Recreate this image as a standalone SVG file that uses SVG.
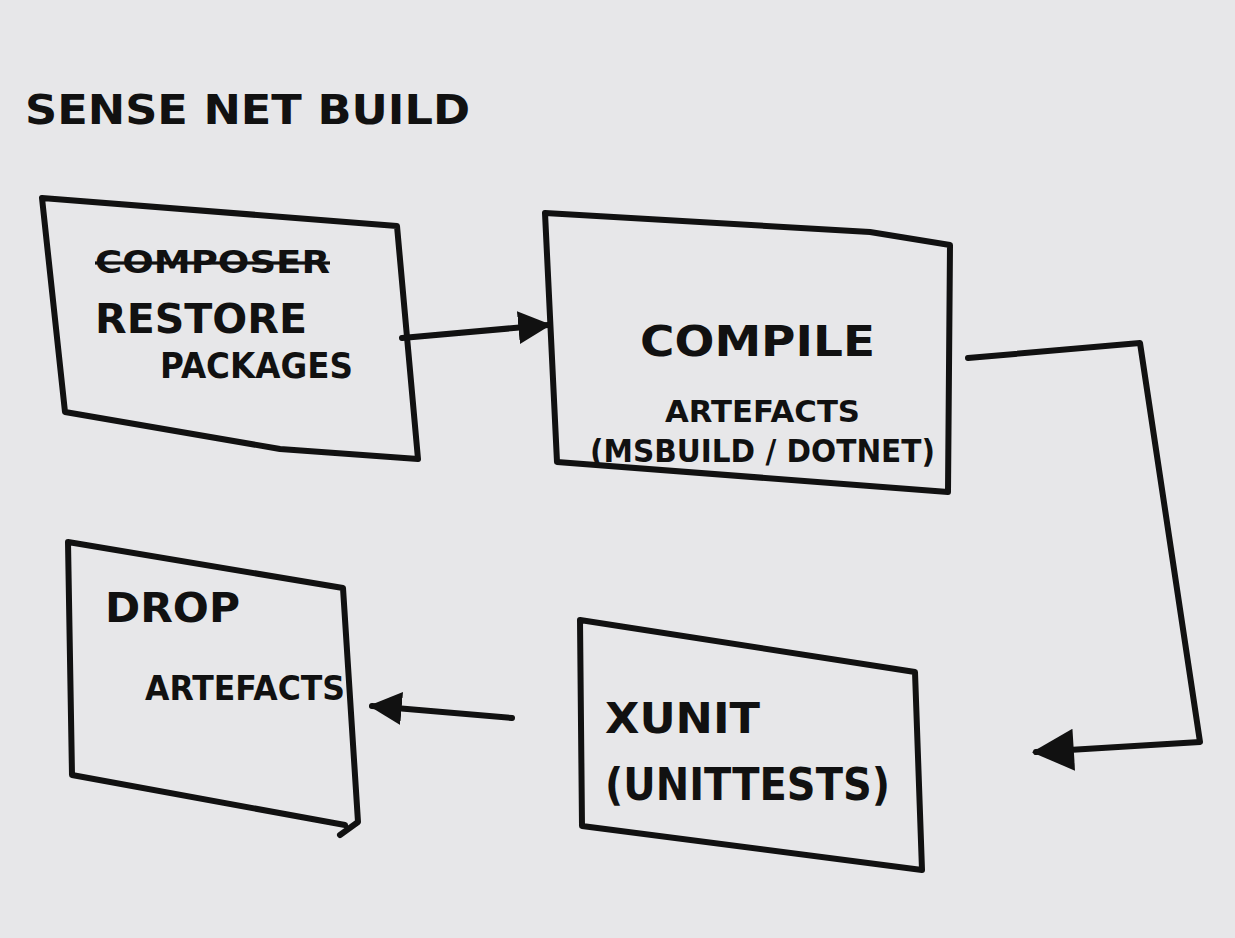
<svg xmlns="http://www.w3.org/2000/svg" width="1235" height="938" viewBox="0 0 1235 938">
<style>
.box{fill:none;stroke:#111;stroke-width:6;stroke-linejoin:round;stroke-linecap:round}
.con{fill:none;stroke:#111;stroke-width:6;stroke-linejoin:round;stroke-linecap:round}
.t{font-family:"DejaVu Sans","Liberation Sans",sans-serif;font-weight:bold;fill:#111}
</style>
<defs>
<marker id="ah" viewBox="0 0 10 10" refX="9" refY="5" markerWidth="5.5" markerHeight="5.5" orient="auto" markerUnits="strokeWidth">
<path d="M0,0 L10,5 L0,10 z" fill="#111"/>
</marker>
<marker id="ahBig" viewBox="0 0 10 10" refX="9" refY="5" markerWidth="8" markerHeight="7" orient="auto" markerUnits="strokeWidth">
<path d="M0,0 L10,5 L0,10 z" fill="#111"/>
</marker>
</defs>
<rect width="1235" height="938" fill="#e7e7e9"/>
<text class="t" x="25" y="124" font-size="40" textLength="445" lengthAdjust="spacingAndGlyphs">SENSE NET BUILD</text>

<g id="restore">
<path class="box" d="M42,198 L397,226 L418,459 L280,449 L65,412 Z"/>
<text class="t" x="95" y="273" font-size="32" textLength="235" lengthAdjust="spacingAndGlyphs" text-decoration="line-through">COMPOSER</text>
<text class="t" x="95" y="333" font-size="40" textLength="212" lengthAdjust="spacingAndGlyphs">RESTORE</text>
<text class="t" x="160" y="378" font-size="36" textLength="193" lengthAdjust="spacingAndGlyphs">PACKAGES</text>
</g>

<g id="compile">
<path class="box" d="M545,213 L870,232 L950,245 L948,492 L557,462 Z"/>
<text class="t" x="640" y="356" font-size="42" textLength="235" lengthAdjust="spacingAndGlyphs">COMPILE</text>
<text class="t" x="665" y="422" font-size="30" textLength="195" lengthAdjust="spacingAndGlyphs">ARTEFACTS</text>
<text class="t" x="590" y="462" font-size="32" textLength="345" lengthAdjust="spacingAndGlyphs">(MSBUILD / DOTNET)</text>
</g>

<g id="xunit">
<path class="box" d="M580,620 L915,672 L922,870 L582,826 Z"/>
<text class="t" x="605" y="733" font-size="42" textLength="155" lengthAdjust="spacingAndGlyphs">XUNIT</text>
<text class="t" x="605" y="800" font-size="44" textLength="285" lengthAdjust="spacingAndGlyphs">(UNITTESTS)</text>
</g>

<g id="drop">
<path class="box" d="M68,542 L343,588 L358,822 L340,835 M345,825 L72,775 L68,542"/>
<text class="t" x="105" y="622" font-size="40" textLength="135" lengthAdjust="spacingAndGlyphs">DROP</text>
<text class="t" x="145" y="700" font-size="34" textLength="200" lengthAdjust="spacingAndGlyphs">ARTEFACTS</text>
</g>

<g id="connectors">
<path class="con" d="M402,338 L548,325" marker-end="url(#ah)"/>
<path class="con" d="M968,358 L1140,343 L1200,742 L1036,752" marker-end="url(#ahBig)"/>
<path class="con" d="M512,718 L372,706" marker-end="url(#ah)"/>
</g>
</svg>
